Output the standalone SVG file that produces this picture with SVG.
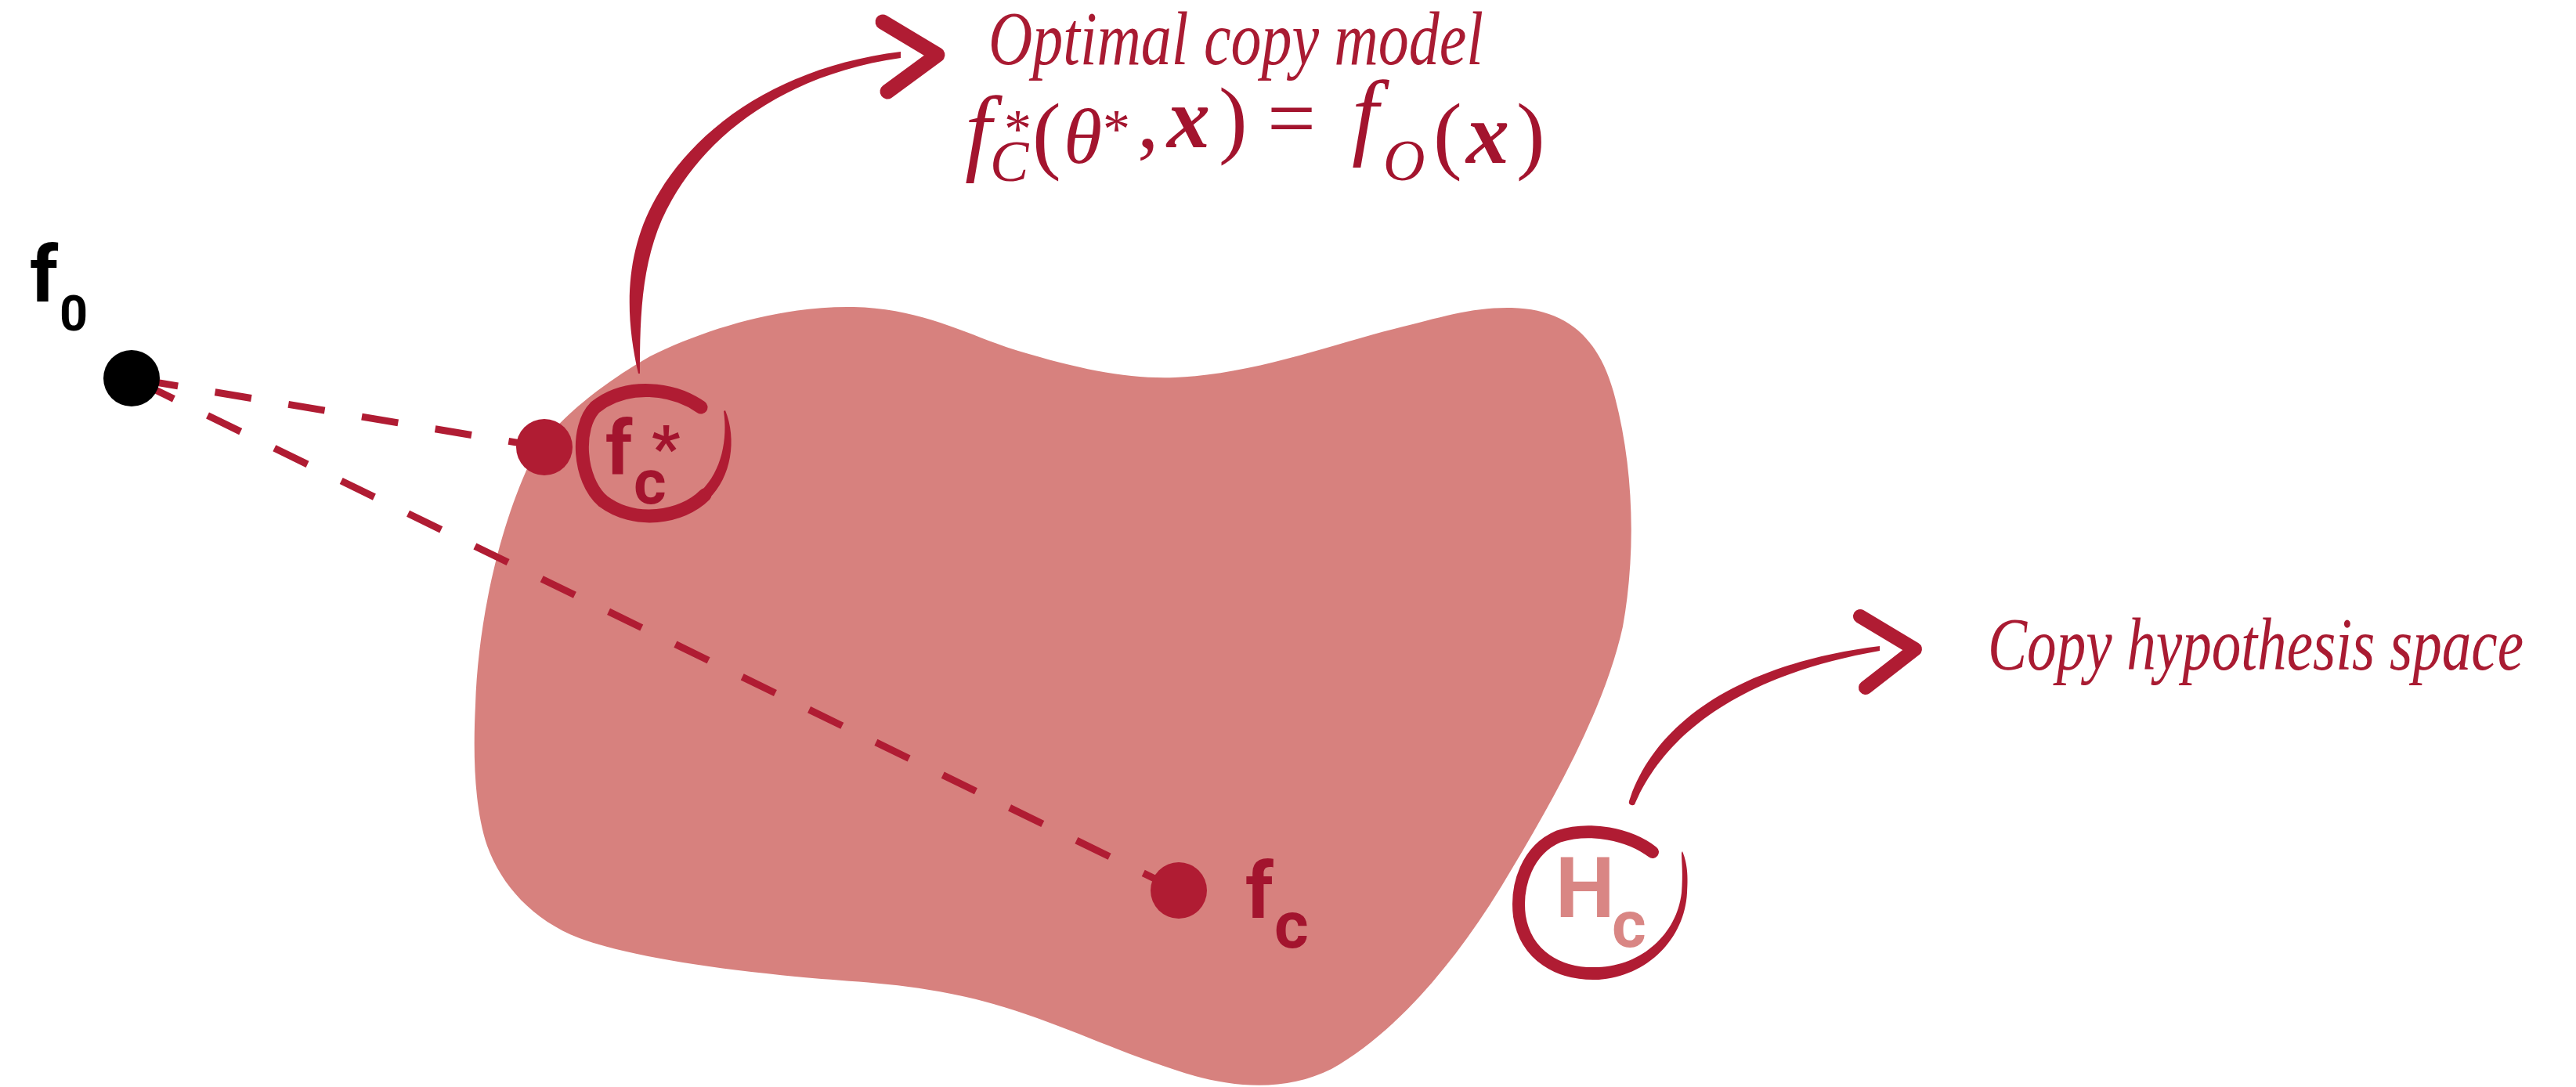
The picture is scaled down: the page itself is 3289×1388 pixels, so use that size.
<svg xmlns="http://www.w3.org/2000/svg" width="3289" height="1388" viewBox="0 0 3289 1388">
<style>
.brush{fill:none;stroke:#B01C33;stroke-linecap:round;stroke-linejoin:round}
.ink{fill:#B01C33}
.dash{fill:none;stroke:#B01C33;stroke-width:9;stroke-dasharray:47 48;stroke-dashoffset:82}
.lbl{font-family:Roboto,"Liberation Sans",sans-serif;font-weight:700}
.ann{font-family:"Liberation Serif",serif;font-style:italic;fill:#A91B32}
.math{font-family:"Liberation Serif",serif;fill:#A3142E}
</style>
<rect width="3289" height="1388" fill="#ffffff"/>
<g id="hypothesis-space">
<path d="M676,592 C700,545 760,495 830,455 C900,420 1000,390 1090,392 C1180,394 1240,430 1300,448 C1380,472 1440,484 1500,482 C1600,478 1700,440 1780,420 C1840,405 1880,392 1930,393 C2000,395 2040,430 2060,500 C2085,590 2090,700 2072,800 C2050,900 1990,1010 1930,1110 C1860,1230 1780,1320 1700,1365 C1640,1395 1570,1390 1500,1366 C1420,1340 1360,1310 1282,1286 C1180,1255 1100,1255 1026,1248 C900,1236 800,1220 740,1198 C680,1175 640,1130 622,1080 C605,1030 604,960 607,900 C610,800 635,680 676,592 Z" fill="#D7817E"/>
</g>
<g id="connectors">
<line class="dash" x1="168" y1="483" x2="695" y2="571"/>
<line class="dash" x1="168" y1="483" x2="1505" y2="1137"/>
<path class="ink" d="M815,477 C797,400 797,318 842,245 C893,161 996,85 1150,66 L1150,74 C1004,95 907,169 858,255 C819,322 817,400 817,477 Z"/>
<polyline class="brush" stroke-width="19" points="1127,28 1197,70 1133,117"/>
<path class="ink" d="M2080,1023 C2112,925 2216,848 2400,825 L2400,831 C2224,862 2128,935 2088,1025 A4,4 0 0 1 2080,1023 Z"/>
<polyline class="brush" stroke-width="18" points="2375,787 2445,829 2382,878"/>
</g>
<g id="node-f0">
<circle cx="168" cy="483" r="36" fill="#000000"/>
<text class="lbl" x="38" y="385" font-size="101" fill="#000000">f<tspan x="76" y="422" font-size="63">0</tspan></text>
</g>
<g id="node-fc-star">
<circle cx="695" cy="571" r="36" fill="#B01C33"/>
<path class="brush" stroke-width="17" d="M895,520 C860,495 800,488 760,520 C735,545 738,612 770,640 C810,670 870,662 900,632"/>
<path class="ink" d="M905,637 C934,609 941,561 926,524 L924,525 C929,560 922,601 895,627 Z"/>
<text class="lbl" x="773" y="605" font-size="96" fill="#A3142E">f<tspan x="832" y="600" font-size="80">*</tspan><tspan x="809" y="643" font-size="80">c</tspan></text>
</g>
<g id="node-fc">
<circle cx="1505" cy="1137" r="36" fill="#B01C33"/>
<text class="lbl" x="1590" y="1172" font-size="100" fill="#A3142E">f<tspan x="1627" y="1210" font-size="84">c</tspan></text>
</g>
<g id="node-hc">
<path class="brush" stroke-width="16" d="M2110,1088 C2080,1065 2030,1055 1990,1068 C1950,1085 1935,1130 1940,1170 C1948,1220 1990,1245 2040,1243"/>
<path class="ink" d="M2040,1251 C2104,1247 2151,1198 2154,1140 C2156,1114 2153,1099 2148,1087 L2147,1089 C2147,1101 2149,1116 2147,1140 C2141,1192 2097,1233 2040,1235 Z"/>
<text class="lbl" x="1986" y="1171" font-size="107" fill="#D98684">H<tspan x="2058" y="1209" font-size="84">c</tspan></text>
</g>
<g id="label-optimal">
<text class="ann" x="1262" y="82" font-size="97" textLength="632" lengthAdjust="spacingAndGlyphs">Optimal copy model</text>
<text class="math" font-size="110" y="208"><tspan x="1232" font-style="italic" font-size="122">f</tspan><tspan x="1282" y="188" font-size="70">*</tspan><tspan x="1264" y="231" font-size="74" font-style="italic">C</tspan><tspan x="1318" y="208">(</tspan><tspan x="1358" font-style="italic" font-size="100">θ</tspan><tspan x="1408" y="188" font-size="70">*</tspan><tspan x="1452">,</tspan><tspan x="1490" font-style="italic" font-weight="700">x</tspan><tspan x="1556">)</tspan><tspan x="1618">=</tspan><tspan x="1726" font-style="italic" font-size="122">f</tspan><tspan x="1766" y="230" font-size="74" font-style="italic">O</tspan><tspan x="1830" y="208">(</tspan><tspan x="1872" font-style="italic" font-weight="700">x</tspan><tspan x="1936">)</tspan></text>
</g>
<g id="label-hypothesis">
<text class="ann" x="2538" y="855" font-size="96" textLength="684" lengthAdjust="spacingAndGlyphs">Copy hypothesis space</text>
</g>
</svg>
